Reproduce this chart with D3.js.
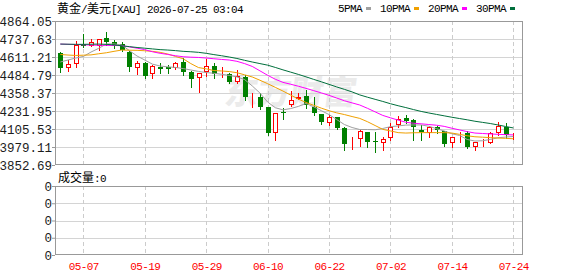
<!DOCTYPE html>
<html>
<head>
<meta charset="utf-8">
<script src="https://cdn.jsdelivr.net/npm/d3@7/dist/d3.min.js"></script>
<style>
body { margin: 0; background: #fff; }
svg text { font-family: "Liberation Mono", "Noto Sans CJK SC", monospace; }
</style>
</head>
<body>
<svg id="kline" width="578" height="276"></svg>
<script>
var dates = ["05-04","05-05","05-06","05-07","05-08","05-11","05-12","05-13","05-14","05-15",
  "05-18","05-19","05-20","05-21","05-22","05-25","05-26","05-27","05-28","05-29",
  "06-01","06-02","06-03","06-04","06-05","06-08","06-09","06-10","06-11","06-12",
  "06-15","06-16","06-17","06-18","06-19","06-22","06-23","06-24","06-25","06-26",
  "06-29","06-30","07-01","07-02","07-03","07-06","07-07","07-08","07-09","07-10",
  "07-13","07-14","07-15","07-16","07-17","07-20","07-21","07-22","07-23","07-24"];

var open  = [4639,4532,4560,4700,4690,4690,4747,4719,4700,4648,4536,4567,4490,4543,4543,4536,4578,4508,4466,4508,
  4548,4502,4492,4438,4473,4328,4332,4258,4075,4227,4274,4314,4339,4258,4211,4146,4192,4110,4023,4033,
  4082,4019,4009,4040,4134,4181,4169,4098,4080,4117,4094,4005,4066,4080,3977,4007,4009,4080,4117,4054];
var high  = [4645,4590,4724,4770,4738,4740,4785,4733,4714,4650,4583,4574,4555,4571,4555,4574,4602,4510,4497,4600,
  4569,4543,4497,4520,4485,4360,4356,4262,4216,4251,4375,4356,4379,4332,4211,4204,4192,4122,4047,4098,
  4087,4087,4051,4145,4197,4204,4174,4134,4126,4126,4094,4051,4087,4094,4016,4033,4087,4157,4145,4080];
var low   = [4506,4513,4543,4680,4688,4660,4695,4676,4653,4513,4490,4466,4462,4497,4497,4529,4485,4403,4367,4480,
  4464,4468,4426,4426,4309,4262,4244,4063,4028,4174,4270,4314,4251,4204,4141,4134,4103,3958,3963,3986,
  3977,3946,3958,4028,4122,4146,4028,4028,4051,4080,3986,3981,4016,3970,3958,3986,4005,4063,4040,4033];
var close = [4532,4560,4695,4688,4714,4738,4719,4690,4660,4543,4567,4480,4548,4530,4524,4567,4508,4457,4497,4550,
  4490,4508,4434,4478,4332,4332,4258,4075,4216,4216,4309,4328,4274,4216,4157,4192,4110,4000,4028,4091,
  4016,4014,4033,4117,4174,4164,4122,4086,4117,4098,4000,4051,4070,3977,4012,4009,4075,4126,4063,4056];

var ma5  = [4576,4590,4604,4615,4646,4672,4703,4703,4696,4656,4618,4590,4561,4548,4542,4538,4530,4520,4510,4502,
  4497,4490,4482,4471,4453,4408,4358,4295,4255,4240,4249,4264,4285,4262,4234,4207,4172,4137,4116,4102,
  4102,4100,4109,4122,4127,4133,4134,4134,4125,4108,4092,4072,4060,4032,4021,4023,4032,4044,4049,4053];
var ma10 = [4629,4625,4622,4624,4626,4634,4641,4651,4660,4659,4658,4655,4651,4644,4632,4615,4599,4565,4537,4528,
  4516,4513,4509,4501,4486,4471,4448,4424,4398,4372,4344,4316,4292,4272,4252,4234,4219,4207,4193,4180,
  4157,4130,4103,4092,4080,4077,4079,4080,4080,4080,4080,4077,4068,4058,4051,4048,4045,4042,4040,4037];
var ma20 = [4702,4700,4699,4697,4695,4694,4693,4692,4691,4682,4673,4663,4648,4637,4629,4620,4613,4610,4608,4604,
  4599,4594,4590,4581,4565,4545,4514,4483,4455,4433,4420,4406,4391,4375,4359,4342,4323,4304,4289,4274,
  4251,4226,4201,4184,4168,4153,4146,4142,4137,4132,4124,4111,4099,4087,4077,4074,4071,4068,4066,4064];
var ma30 = [4702,4701,4700,4700,4701,4702,4700,4696,4690,4684,4678,4673,4668,4663,4660,4656,4651,4648,4644,4637,
  4628,4620,4611,4601,4588,4576,4565,4554,4538,4521,4505,4489,4472,4454,4437,4419,4401,4384,4366,4345,
  4329,4314,4299,4283,4269,4256,4242,4229,4218,4208,4198,4188,4179,4170,4160,4152,4144,4134,4123,4113];

var yTicks = [4864.05, 4737.63, 4611.21, 4484.79, 4358.37, 4231.95, 4105.53, 3979.11, 3852.69];
var xTicks = ["05-07","05-19","05-29","06-10","06-22","07-02","07-14","07-24"];
var volTicks = ["0","0","0","0","0"];
var maNames = ["5PMA","10PMA","20PMA","30PMA"];
var maColors = ["#a0a0a0","#f0a000","#ff00ff","#006f3c"];

var svg = d3.select("#kline"),
    margin = {top: 21, right: 55.5, left: 55.5},
    mainBottom = 165,
    volTop = 186, volBottom = 255,
    width = +svg.attr("width") - margin.left - margin.right;

var x = d3.scalePoint().domain(dates).range([60.3, 513.3]);
var y = d3.scaleLinear().domain([yTicks[yTicks.length - 1], yTicks[0]]).range([mainBottom, margin.top]);
var yv = d3.scaleLinear().domain([0, volTicks.length - 1]).range([volBottom, volTop]);

function px(v) { return Math.round(v) + 0.5; }
var monoFont = '"Liberation Mono", monospace';
var cnFont = '"Noto Sans CJK SC", sans-serif';
var numFont = '"Liberation Sans", Arial, sans-serif';

// watermark
svg.append("text")
    .attr("x", 226).attr("y", 104)
    .attr("font-family", cnFont).attr("font-weight", 900)
    .attr("font-size", 33).attr("fill", "#ebebeb")
    .attr("transform", "skewX(-8) translate(12,0)")
    .text("东方财富");

// title
var title = svg.append("text").attr("x", 57).attr("y", 13).attr("fill", "#000");
title.append("tspan").attr("font-family", cnFont).attr("font-size", 12).text("黄金");
title.append("tspan").attr("font-family", monoFont).attr("font-size", 11).attr("letter-spacing", -0.6).text("/");
title.append("tspan").attr("font-family", cnFont).attr("font-size", 12).text("美元");
title.append("tspan").attr("font-family", monoFont).attr("font-size", 11).attr("letter-spacing", -0.6).text("[XAU] 2026-07-25 03:04");

// legend
var lx = 338;
maNames.forEach(function(n, i) {
  svg.append("text").attr("x", lx).attr("y", 12)
      .attr("font-family", monoFont).attr("font-size", 11).attr("letter-spacing", -0.6)
      .attr("fill", "#000").text(n);
  lx += n.length * 6 + 4;
  svg.append("rect").attr("x", lx).attr("y", 7).attr("width", 5).attr("height", 3).attr("fill", maColors[i]);
  lx += 14;
});

// grids main
var g = svg.append("g");
g.selectAll(".hgrid").data(yTicks.slice(1, -1)).enter().append("line")
    .attr("x1", margin.left).attr("x2", margin.left + width)
    .attr("y1", function(d) { return px(y(d)); }).attr("y2", function(d) { return px(y(d)); })
    .attr("stroke", "#d4d4d4");
g.selectAll(".vgrid").data(xTicks).enter().append("line")
    .attr("x1", function(d) { return px(x(d)); }).attr("x2", function(d) { return px(x(d)); })
    .attr("y1", margin.top).attr("y2", mainBottom)
    .attr("stroke", "#cccccc").attr("stroke-dasharray", "4,3");

// grids volume
g.selectAll(".vhgrid").data(d3.range(1, volTicks.length - 1)).enter().append("line")
    .attr("x1", margin.left).attr("x2", margin.left + width)
    .attr("y1", function(d) { return px(yv(d)); }).attr("y2", function(d) { return px(yv(d)); })
    .attr("stroke", "#d4d4d4");
g.selectAll(".vvgrid").data(xTicks).enter().append("line")
    .attr("x1", function(d) { return px(x(d)); }).attr("x2", function(d) { return px(x(d)); })
    .attr("y1", volTop).attr("y2", volBottom)
    .attr("stroke", "#cccccc").attr("stroke-dasharray", "4,3");

// candles
var candle = svg.append("g").selectAll("g").data(dates).enter().append("g");
candle.append("line")
    .attr("x1", function(d) { return px(x(d)); }).attr("x2", function(d) { return px(x(d)); })
    .attr("y1", function(d, i) { return Math.round(y(high[i])); })
    .attr("y2", function(d, i) { return Math.round(y(low[i])) + 1; })
    .attr("stroke", function(d, i) { return close[i] >= open[i] ? "#ff0000" : "#008000"; });
candle.append("rect")
    .attr("x", function(d, i) { return close[i] >= open[i] ? px(x(d)) - 2 : px(x(d)) - 2.5; })
    .attr("y", function(d, i) {
      var t = Math.round(y(Math.max(open[i], close[i])));
      return close[i] >= open[i] ? t + 0.5 : t; })
    .attr("width", function(d, i) { return close[i] >= open[i] ? 4 : 5; })
    .attr("height", function(d, i) {
      var h = Math.round(y(Math.min(open[i], close[i]))) - Math.round(y(Math.max(open[i], close[i])));
      return close[i] >= open[i] ? Math.max(h - 1, 0) : Math.max(h, 1); })
    .attr("fill", function(d, i) { return close[i] >= open[i] ? "#fff" : "#008000"; })
    .attr("stroke", function(d, i) { return close[i] >= open[i] ? "#ff0000" : "none"; });

// moving averages
var line = d3.line().x(function(d, i) { return x(dates[i]); }).y(function(d) { return y(d); });
[ma5, ma10, ma20, ma30].forEach(function(s, i) {
  svg.append("path").datum(s).attr("d", line)
      .attr("fill", "none").attr("stroke", maColors[i]).attr("stroke-width", 1);
});

// frames
svg.append("rect").attr("x", margin.left).attr("y", margin.top + 0.5)
    .attr("width", width).attr("height", mainBottom - margin.top - 1)
    .attr("fill", "none").attr("stroke", "#999");
svg.append("rect").attr("x", margin.left).attr("y", volTop + 0.5)
    .attr("width", width).attr("height", volBottom - volTop - 1)
    .attr("fill", "none").attr("stroke", "#999");

// axes
var ya = svg.append("g").attr("transform", "translate(55,0)")
    .call(d3.axisLeft(y).tickValues(yTicks).tickSize(3).tickPadding(0).tickFormat(d3.format(".2f")));
ya.select(".domain").remove();
ya.selectAll("line").attr("stroke", "#999");
ya.selectAll("text").attr("font-family", numFont).attr("font-size", 12.5).attr("fill", "#1c1c1c");

var va = svg.append("g").attr("transform", "translate(55,0)")
    .call(d3.axisLeft(yv).tickValues(d3.range(volTicks.length)).tickSize(3).tickPadding(0)
      .tickFormat(function(d) { return volTicks[d]; }));
va.select(".domain").remove();
va.selectAll("line").attr("stroke", "#999");
va.selectAll("text").attr("font-family", numFont).attr("font-size", 12.5).attr("fill", "#1c1c1c");

var xa = svg.append("g").attr("transform", "translate(0," + volBottom + ")")
    .call(d3.axisBottom(x).tickValues(xTicks).tickSize(0).tickPadding(7.5));
xa.select(".domain").remove();
xa.selectAll("text").attr("font-family", monoFont).attr("font-size", 11)
    .attr("letter-spacing", -0.6).attr("fill", "#ff0000");

// volume label
var vl = svg.append("text").attr("x", 58).attr("y", 182).attr("fill", "#000");
vl.append("tspan").attr("font-family", cnFont).attr("font-size", 12).text("成交量");
vl.append("tspan").attr("font-family", monoFont).attr("font-size", 11).attr("letter-spacing", -0.6).text(":0");
</script>
</body>
</html>
